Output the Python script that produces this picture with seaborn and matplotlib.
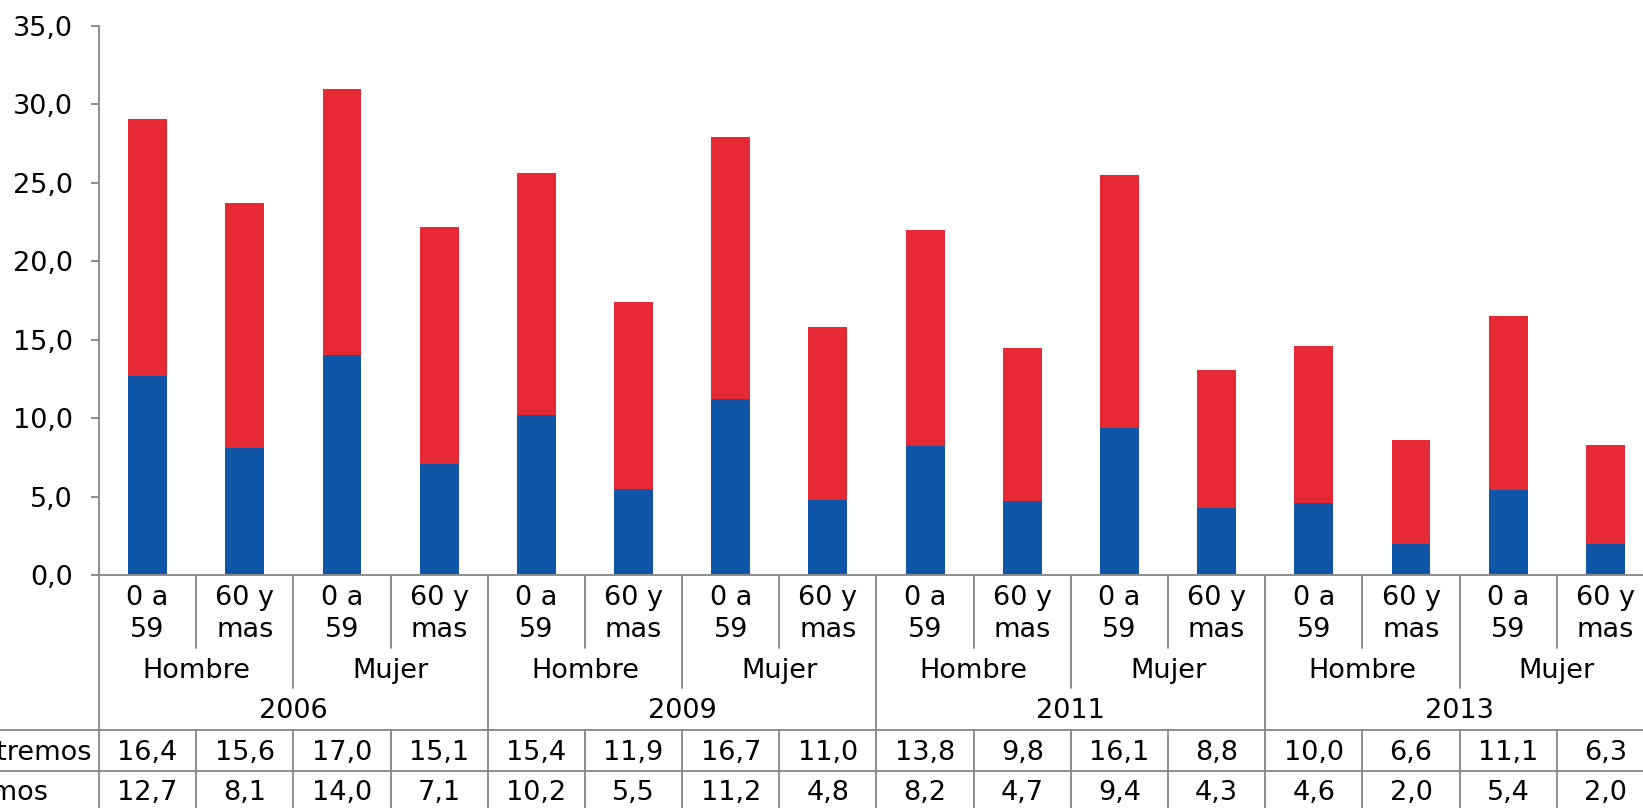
import matplotlib
matplotlib.use("Agg")
import matplotlib.pyplot as plt
import matplotlib.transforms as mtransforms
from matplotlib.lines import Line2D
import pandas as pd
import seaborn as sns

# Data
years = ["2006", "2009", "2011", "2013"]
genders = ["Hombre", "Mujer"]
ages = ["0 a\n59", "60 y\nmas"]
no_extremos = [16.4, 15.6, 17.0, 15.1, 15.4, 11.9, 16.7, 11.0,
               13.8, 9.8, 16.1, 8.8, 10.0, 6.6, 11.1, 6.3]
extremos = [12.7, 8.1, 14.0, 7.1, 10.2, 5.5, 11.2, 4.8,
            8.2, 4.7, 9.4, 4.3, 4.6, 2.0, 5.4, 2.0]
row_labels = ["Pobres no extremos", "Pobres extremos"]

RED = "#E72936"
BLUE = "#1056A8"
GRID = "#8C8C8C"
W, H = 1643, 808

cats = [f"{y}|{g}|{a}" for y in years for g in genders for a in ages]
df = pd.DataFrame({
    "cat": cats,
    "extremos": extremos,
    "no_extremos": no_extremos,
})
df["total"] = df["extremos"] + df["no_extremos"]

sns.set_style("white")
plt.rcParams["font.family"] = ["DejaVu Sans"]
plt.rcParams["font.size"] = 19.5
plt.rcParams["text.color"] = "black"
plt.rcParams["ytick.labelcolor"] = "black"

fig = plt.figure(figsize=(W / 100, H / 100), dpi=100)
ax = fig.add_axes([99 / W, (H - 575) / H, (1654 - 99) / W, (575 - 26) / H])

# stacked bars: total in red, then extremos in blue on top of it
sns.barplot(data=df, x="cat", y="total", order=cats, color=RED, width=0.4,
            saturation=1, linewidth=0, ax=ax)
sns.barplot(data=df, x="cat", y="extremos", order=cats, color=BLUE, width=0.4,
            saturation=1, linewidth=0, ax=ax)

ax.set_xlim(-0.5, len(cats) - 0.5)
ax.set_ylim(0, 35)
ax.set_yticks(range(0, 36, 5))
ax.set_yticklabels([f"{v:.1f}".replace(".", ",") for v in range(0, 36, 5)])
ax.set_xticks([])
ax.set_xlabel("")
ax.set_ylabel("")
sns.despine(ax=ax, top=True, right=True)
for side in ["left", "bottom"]:
    ax.spines[side].set_color(GRID)
    ax.spines[side].set_linewidth(1.4)
ax.tick_params(axis="y", which="major", left=True, length=6, width=1.4,
               color=GRID, pad=13, labelsize=19.5, labelcolor="black")

# table under the chart, x in data units, y in figure pixels
trans = mtransforms.blended_transform_factory(ax.transData, fig.transFigure)


def fy(px):
    return 1 - px / H


def vline(x, top, bottom):
    ax.add_line(Line2D([x, x], [fy(top), fy(bottom)], transform=trans,
                       color=GRID, lw=1.4, clip_on=False))


n = len(cats)
for i in range(n + 1):
    x = i - 0.5
    if i % 4 == 0:
        vline(x, 575, H)
    elif i % 2 == 0:
        vline(x, 575, 688)
        vline(x, 730, H)
    else:
        vline(x, 575, 648)
        vline(x, 730, H)

for ypx in [730, 771]:
    fig.add_artist(Line2D([0, 1], [fy(ypx), fy(ypx)], transform=fig.transFigure,
                          color=GRID, lw=1.4))

for i, c in enumerate(cats):
    age = c.split("|")[2]
    top, bot = age.split("\n")
    ax.text(i, fy(605), top, transform=trans, ha="center", va="baseline")
    ax.text(i, fy(637), bot, transform=trans, ha="center", va="baseline")
    ax.text(i, fy(760), f"{no_extremos[i]:.1f}".replace(".", ","),
            transform=trans, ha="center", va="baseline")
    ax.text(i, fy(800), f"{extremos[i]:.1f}".replace(".", ","),
            transform=trans, ha="center", va="baseline")

for yi, y in enumerate(years):
    for gi, g in enumerate(genders):
        ax.text(yi * 4 + gi * 2 + 0.5, fy(678), g, transform=trans,
                ha="center", va="baseline")
    ax.text(yi * 4 + 1.5, fy(718), y, transform=trans, ha="center", va="baseline")

# row labels, cut by the figure's left edge as in the original
fig.text(92 / W, fy(760), row_labels[0], ha="right", va="baseline")
fig.text(48 / W, fy(800), row_labels[1], ha="right", va="baseline")

fig.savefig("out.png", dpi=100)
